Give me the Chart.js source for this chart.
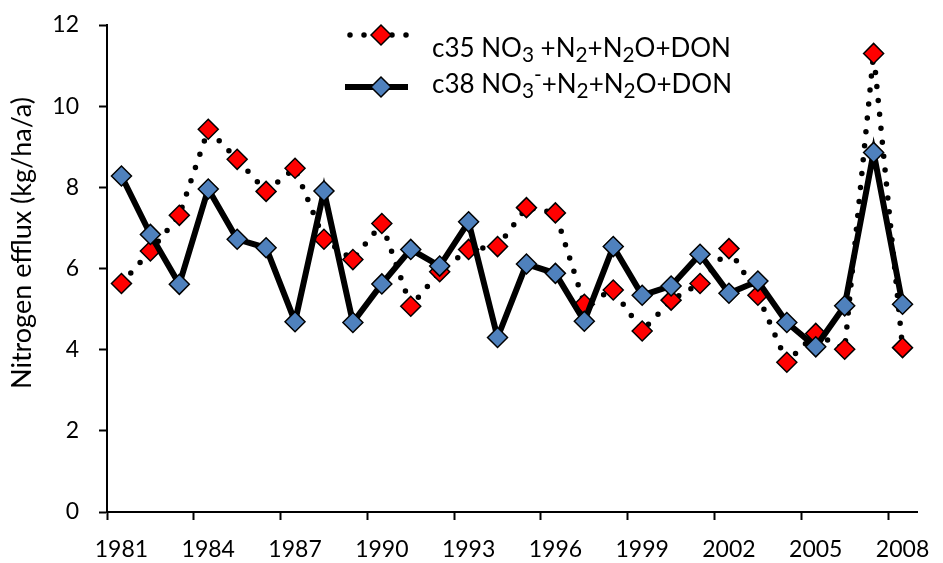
<!DOCTYPE html>
<html>
<head>
<meta charset="utf-8">
<script src="https://cdn.jsdelivr.net/npm/chart.js@4/dist/chart.umd.min.js"></script>
<style>
  html, body { margin: 0; padding: 0; background: #fff; }
  #wrap { width: 943px; height: 563px; }
</style>
</head>
<body>
<div id="wrap"><canvas id="efflux-chart" width="943" height="563"></canvas></div>
<script>
/* global Chart */
const years = [1981, 1982, 1983, 1984, 1985, 1986, 1987, 1988, 1989, 1990,
  1991, 1992, 1993, 1994, 1995, 1996, 1997, 1998, 1999, 2000,
  2001, 2002, 2003, 2004, 2005, 2006, 2007, 2008];

// annual N efflux, kg/ha/a
const c35 = [5.63, 6.43, 7.31, 9.43, 8.69, 7.90, 8.47, 6.72, 6.22, 7.11,
  5.07, 5.92, 6.47, 6.54, 7.50, 7.37, 5.12, 5.47, 4.46, 5.22,
  5.63, 6.49, 5.34, 3.69, 4.40, 4.01, 11.30, 4.05];
const c38 = [8.28, 6.84, 5.61, 7.96, 6.72, 6.51, 4.69, 7.91, 4.67, 5.62,
  6.47, 6.06, 7.15, 4.30, 6.11, 5.88, 4.70, 6.54, 5.34, 5.57,
  6.35, 5.39, 5.69, 4.67, 4.07, 5.08, 8.86, 5.12];

const yMin = 0;
const yMax = 12;
const yStep = 2;
const yTitle = "Nitrogen efflux (kg/ha/a)";

// legend texts, split into normal / subscript / superscript runs
const legendC35 = [{ t: "c35 NO" }, { t: "3", sub: true }, { t: " +N" }, { t: "2", sub: true },
  { t: "+N" }, { t: "2", sub: true }, { t: "O+DON" }];
const legendC38 = [{ t: "c38 NO" }, { t: "3", sub: true }, { t: "-", sup: true }, { t: "+N" },
  { t: "2", sub: true }, { t: "+N" }, { t: "2", sub: true }, { t: "O+DON" }];

const FONT = "Lato, 'Open Sans', sans-serif";
const RED = "#ff0000";
const BLUE = "#4f81bd";

function drawDiamond(ctx, x, y, r, fill) {
  ctx.beginPath();
  ctx.moveTo(x - r, y);
  ctx.lineTo(x, y - r);
  ctx.lineTo(x + r, y);
  ctx.lineTo(x, y + r);
  ctx.closePath();
  ctx.fillStyle = fill;
  ctx.fill();
  ctx.lineWidth = 1.5;
  ctx.strokeStyle = "#000";
  ctx.stroke();
}

function drawRich(ctx, parts, x, y, size) {
  ctx.textAlign = "left";
  ctx.textBaseline = "alphabetic";
  ctx.fillStyle = "#000";
  parts.forEach((p) => {
    const s = p.sub || p.sup ? size * 0.8 : size;
    ctx.font = s + "px " + FONT;
    let dy = 0;
    if (p.sub) dy = size * 0.2;
    if (p.sup) dy = -size * 0.42;
    ctx.fillText(p.t, x, y + dy);
    x += ctx.measureText(p.t).width;
  });
}

const extras = {
  id: "extras",
  afterDraw(chart) {
    const ctx = chart.ctx;
    ctx.save();

    // legend: dotted c35
    ctx.strokeStyle = "#000";
    ctx.lineCap = "round";
    ctx.lineWidth = 5.5;
    ctx.setLineDash([0, 14]);
    ctx.beginPath();
    ctx.moveTo(350, 35);
    ctx.lineTo(410, 35);
    ctx.stroke();
    ctx.setLineDash([]);
    drawDiamond(ctx, 381, 35, 10, RED);

    // legend: solid c38
    ctx.lineCap = "butt";
    ctx.lineWidth = 6;
    ctx.beginPath();
    ctx.moveTo(345, 87);
    ctx.lineTo(408, 87);
    ctx.stroke();
    drawDiamond(ctx, 381, 87, 10, BLUE);

    drawRich(ctx, legendC35, 432, 57, 26);
    drawRich(ctx, legendC38, 432, 93, 26);

    // y axis title
    ctx.translate(22, 243);
    ctx.rotate(-Math.PI / 2);
    ctx.font = "27px " + FONT;
    ctx.fillStyle = "#000";
    ctx.textAlign = "center";
    ctx.textBaseline = "middle";
    ctx.fillText(yTitle, 0, 0);
    ctx.restore();
  }
};

const tickFont = { family: FONT, size: 23 };

new Chart(document.getElementById("efflux-chart"), {
  type: "line",
  data: {
    labels: years,
    datasets: [
      {
        label: "c35",
        data: c35,
        borderColor: "#000",
        borderWidth: 5.5,
        borderDash: [0, 14],
        borderCapStyle: "round",
        tension: 0,
        pointStyle: "rectRot",
        pointRadius: 10,
        pointBackgroundColor: RED,
        pointBorderColor: "#000",
        pointBorderWidth: 1.5,
        order: 2
      },
      {
        label: "c38",
        data: c38,
        borderColor: "#000",
        borderWidth: 6,
        tension: 0,
        pointStyle: "rectRot",
        pointRadius: 10,
        pointBackgroundColor: BLUE,
        pointBorderColor: "#000",
        pointBorderWidth: 1.5,
        order: 1
      }
    ]
  },
  options: {
    responsive: false,
    animation: false,
    layout: { padding: { top: 25, right: 26, left: 0, bottom: 0 } },
    plugins: {
      legend: { display: false },
      tooltip: { enabled: false }
    },
    scales: {
      x: {
        type: "category",
        offset: true,
        grid: {
          offset: true,
          drawOnChartArea: false,
          tickLength: 8,
          tickWidth: 2,
          tickColor: (c) => (c.index % 3 === 0 ? "#000" : "rgba(0,0,0,0)")
        },
        border: { color: "#000", width: 2 },
        ticks: {
          autoSkip: false,
          maxRotation: 0,
          color: "#000",
          font: tickFont,
          padding: 16,
          callback: (v, i) => (i % 3 === 0 ? String(years[i]) : "")
        },
        afterFit: (s) => {
          s.height = 51;
          s.paddingLeft = 0;
          s.paddingRight = 0;
        }
      },
      y: {
        min: yMin,
        max: yMax,
        grid: {
          drawOnChartArea: false,
          tickLength: 8,
          tickWidth: 2,
          tickColor: "#000"
        },
        border: { color: "#000", width: 2 },
        ticks: {
          stepSize: yStep,
          color: "#000",
          font: tickFont,
          padding: 20
        },
        afterFit: (s) => {
          s.width = 107;
          s.paddingTop = 0;
          s.paddingBottom = 0;
        }
      }
    }
  },
  plugins: [extras]
});
</script>
</body>
</html>
